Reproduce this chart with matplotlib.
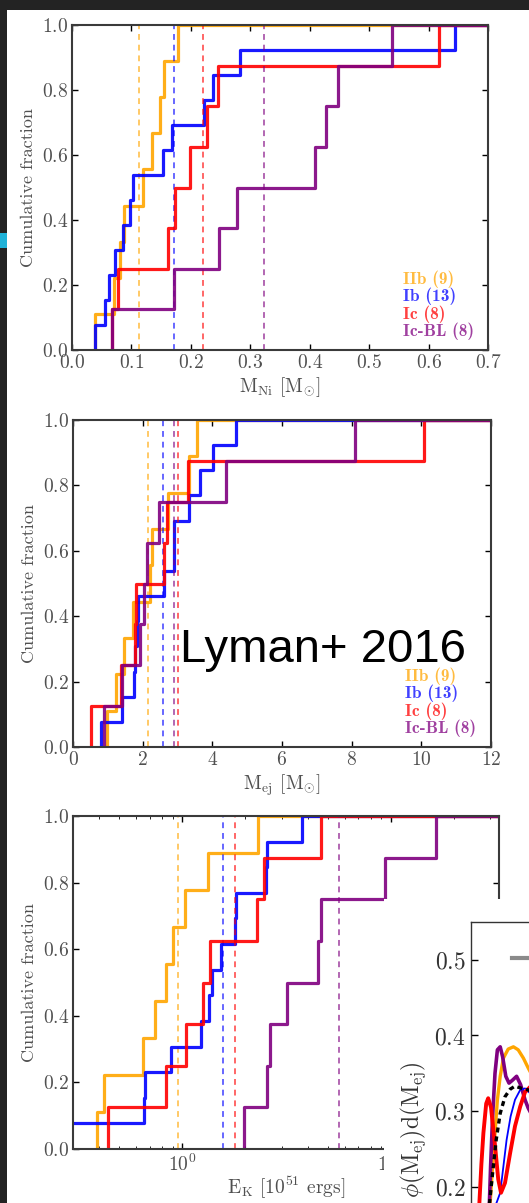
import numpy as np
import matplotlib.pyplot as plt
from matplotlib.patches import Rectangle
from matplotlib.lines import Line2D
from matplotlib.font_manager import FontProperties

plt.rcParams['font.family'] = 'serif'
plt.rcParams['font.serif'] = ['cmr10']
plt.rcParams['mathtext.fontset'] = 'cm'
plt.rcParams['axes.unicode_minus'] = False
plt.rcParams['axes.formatter.use_mathtext'] = True

W, H = 529, 1203

classes = ['IIb', 'Ib', 'Ic', 'Ic-BL']
colors = ['#FFA500', '#0000FF', '#FF0000', '#800080']

# nickel mass [Msun]
ni_iib = [0.038, 0.070, 0.080, 0.087, 0.120, 0.134, 0.148, 0.154, 0.179]
ni_ib = [0.038, 0.056, 0.063, 0.073, 0.086, 0.098, 0.102, 0.153, 0.168,
         0.222, 0.238, 0.283, 0.644]
ni_ic = [0.068, 0.077, 0.162, 0.174, 0.198, 0.227, 0.246, 0.618]
ni_icbl = [0.068, 0.172, 0.247, 0.277, 0.409, 0.428, 0.448, 0.539]

# ejecta mass [Msun]
mej_iib = [0.99, 1.24, 1.45, 1.72, 2.20, 2.27, 2.74, 3.32, 3.56]
mej_ib = [0.81, 1.41, 1.74, 1.79, 1.84, 1.88, 2.62, 2.89, 2.89, 3.32,
          3.65, 4.01, 4.68]
mej_ic = [0.52, 1.38, 1.79, 1.82, 2.60, 2.70, 3.29, 10.09]
mej_icbl = [0.88, 1.41, 1.91, 2.03, 2.12, 2.46, 4.40, 8.10]

# kinetic energy [1e51 erg]
ek_iib = [0.390, 0.423, 0.651, 0.740, 0.841, 0.904, 1.028, 1.326, 2.321]
ek_ib = [0.15, 0.656, 0.663, 0.888, 1.237, 1.344, 1.397, 1.540, 1.796,
         1.813, 2.521, 2.564, 3.765]
ek_ic = [0.440, 0.841, 1.039, 1.264, 1.362, 2.277, 2.469, 4.645]
ek_icbl = [1.980, 2.564, 2.625, 3.193, 4.486, 4.645, 9.380, 16.546]

# ejecta-mass densities (second figure)
phi_red_x = [0.21, 0.26, 0.31, 0.38, 0.43, 0.50, 0.60, 0.68, 0.75, 0.85,
             0.98, 1.10, 1.23, 1.35, 1.48]
phi_red_y = [0.179, 0.230, 0.271, 0.310, 0.317, 0.305, 0.255, 0.210, 0.192,
             0.205, 0.245, 0.280, 0.306, 0.325, 0.332]
phi_orange_x = [0.48, 0.54, 0.60, 0.66, 0.73, 0.81, 0.93, 1.06, 1.18, 1.31,
                1.43, 1.55]
phi_orange_y = [0.179, 0.227, 0.271, 0.315, 0.346, 0.370, 0.382, 0.385,
                0.381, 0.370, 0.357, 0.345]
phi_purple_x = [0.46, 0.49, 0.54, 0.60, 0.66, 0.73, 0.79, 0.87, 0.95, 1.04,
                1.14, 1.24, 1.35, 1.43, 1.55]
phi_purple_y = [0.179, 0.227, 0.293, 0.350, 0.381, 0.385, 0.372, 0.346,
                0.337, 0.341, 0.346, 0.335, 0.315, 0.304, 0.292]
phi_blue_x = [0.64, 0.73, 0.81, 0.89, 0.99, 1.10, 1.23, 1.35, 1.43, 1.55]
phi_blue_y = [0.179, 0.192, 0.227, 0.262, 0.293, 0.315, 0.328, 0.330,
              0.326, 0.320]
phi_all_x = [0.46, 0.54, 0.63, 0.73, 0.85, 0.98, 1.10, 1.27, 1.43, 1.55]
phi_all_y = [0.177, 0.218, 0.262, 0.297, 0.319, 0.329, 0.333, 0.330,
             0.328, 0.325]


def box(l, t, r, b):
    return [l / W, 1 - b / H, (r - l) / W, (b - t) / H]


fig = plt.figure(figsize=(W / 100, H / 100), dpi=100, facecolor='#232323')
fig.add_artist(Rectangle((7 / W, 0), 1 - 7 / W, 1 - 10 / H, transform=fig.transFigure,
                         facecolor='white', edgecolor='none', zorder=-2))
fig.add_artist(Rectangle((0, 1 - 248 / H), 7 / W, 15 / H, transform=fig.transFigure,
                         facecolor='#1FB2D8', edgecolor='none', zorder=-2))

legend_font = FontProperties(family='cmb10', size=12.5)
text_col = '#505050'


def cdf_panel(ax, samples, xmax):
    for vals, c, name in zip(samples, colors, classes):
        v = np.sort(vals)
        n = len(v)
        xs = np.r_[v[0], v, xmax]
        ys = np.r_[0, np.arange(1, n + 1) / n, 1]
        ax.step(xs, ys, where='post', color=c, lw=2.3, alpha=0.9,
                label=f'{name} ({n})')
        ax.axvline(np.mean(vals), color=c, ls=(0, (3, 2.5)), lw=1.4, alpha=0.6)
    ax.set_ylim(0, 1)
    ax.set_yticks(np.arange(0, 1.01, 0.2))
    ax.set_ylabel('Cumulative fraction', fontsize=13, color=text_col)
    ax.tick_params(direction='in', top=True, right=True, length=4, width=1,
                   labelsize=14, labelcolor=text_col, pad=3)
    ax.tick_params(which='minor', direction='in', top=True, right=True, length=2)
    for s in ax.spines.values():
        s.set_color('#3a3a3a')
        s.set_linewidth(1.5)
    leg = ax.legend(loc='lower left', bbox_to_anchor=(0.795, 0.03), frameon=False,
                    handlelength=0, handletextpad=0, borderpad=0, borderaxespad=0,
                    labelspacing=0.0, prop=legend_font, labelcolor='linecolor')
    for t in leg.get_texts():
        t.set_alpha(0.75)


ax1 = fig.add_axes(box(72, 25, 488, 350))
cdf_panel(ax1, [ni_iib, ni_ib, ni_ic, ni_icbl], 0.7)
ax1.set_xlim(0, 0.7)
ax1.set_xticks(np.arange(0, 0.71, 0.1))
ax1.set_xlabel(r'$\mathrm{M_{Ni}}$ [M$_{\odot}$]', fontsize=14, color=text_col,
               labelpad=2)

ax2 = fig.add_axes(box(73, 420, 491, 747))
cdf_panel(ax2, [mej_iib, mej_ib, mej_ic, mej_icbl], 12)
ax2.set_xlim(0, 12)
ax2.set_xticks(np.arange(0, 13, 2))
ax2.set_xlabel(r'$\mathrm{M_{ej}}$ [M$_{\odot}$]', fontsize=14, color=text_col,
               labelpad=2)

ax3 = fig.add_axes(box(73, 816, 499, 1149))
ax3.set_xscale('log')
cdf_panel(ax3, [ek_iib, ek_ib, ek_ic, ek_icbl], 33)
ax3.set_xlim(0.3, 33)
ax3.get_legend().remove()
ax3.set_xlabel(r'$\mathrm{E_K}$ [10$^{51}$ ergs]', fontsize=14, color=text_col,
               labelpad=0)

fig.text(180 / W, 1 - 662 / H, 'Lyman+ 2016', family='Liberation Sans',
         fontsize=34, color='black', va='baseline', zorder=5)

# pasted second figure over the lower right corner
fig.add_artist(Rectangle((384 / W, 0), 1 - 384 / W, 1 - 899 / H,
                         transform=fig.transFigure, facecolor='white',
                         edgecolor='none', zorder=1))
axi = fig.add_axes([471 / W, 1 - 1338 / H, 400 / W, 416 / H], zorder=2)
axi.plot(phi_orange_x, phi_orange_y, color='#FFA500', lw=2.4)
axi.plot(phi_purple_x, phi_purple_y, color='#800080', lw=2.6)
axi.plot(phi_blue_x, phi_blue_y, color='#0000FF', lw=1.3)
axi.plot(phi_red_x, phi_red_y, color='#FF0000', lw=2.8)
axi.plot(phi_all_x, phi_all_y, color='black', lw=2.4, ls=(0, (1.5, 1.2)))
axi.set_xlim(0, 10)
axi.set_ylim(0, 0.55)
axi.set_yticks([0.0, 0.1, 0.2, 0.3, 0.4, 0.5])
axi.tick_params(direction='in', length=5, width=1, labelsize=17,
                labelcolor='#333333', pad=4)
for s in axi.spines.values():
    s.set_color('#333333')
    s.set_linewidth(1)
axi.set_ylabel(r'$\phi(\mathrm{M_{ej}})\mathrm{d}(\mathrm{M_{ej}})$', fontsize=17,
               color='#333333', labelpad=4)
axi.legend([Line2D([], [], color='#8a8a8a', lw=3)], ['all'], loc='center left',
           bbox_to_anchor=(41 / 400, (1338 - 960) / 416), frameon=False,
           borderpad=0, borderaxespad=0, handlelength=2.5, fontsize=17)

fig.savefig('out.png', dpi=100, facecolor=fig.get_facecolor())
